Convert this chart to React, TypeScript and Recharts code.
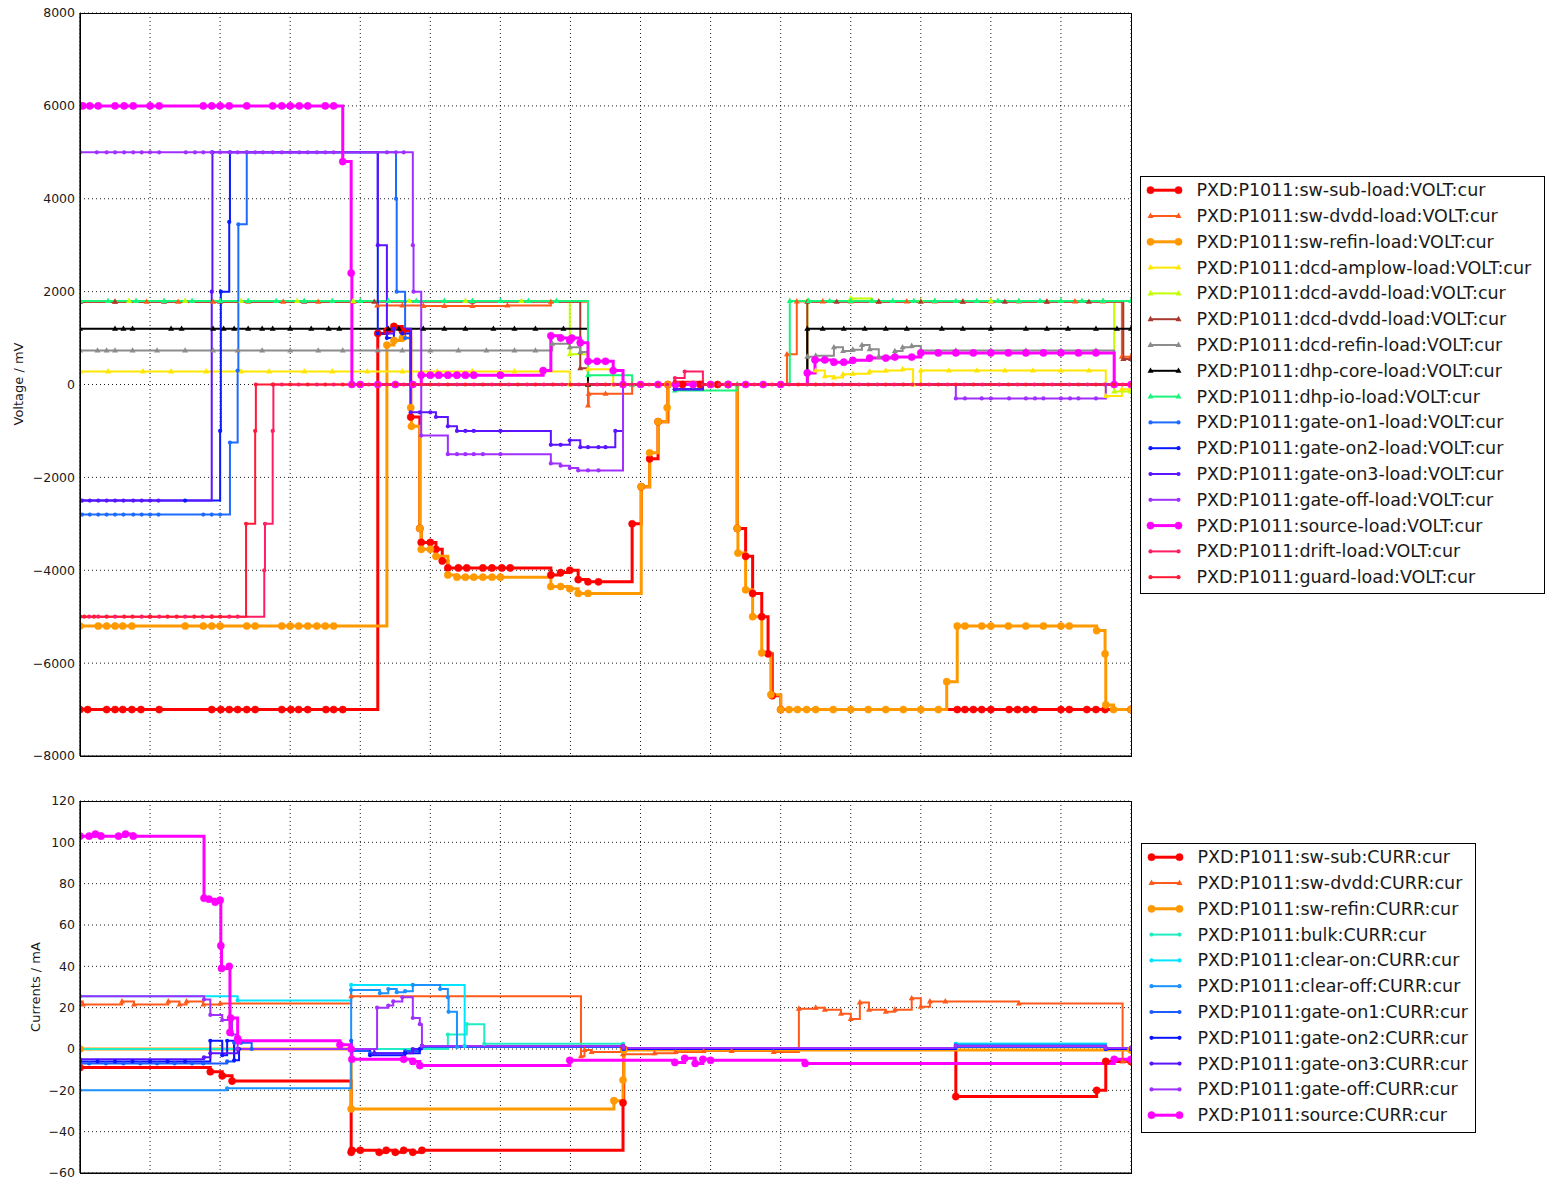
import React from 'react';
import {
  LineChart,
  Line,
  XAxis,
  YAxis,
  CartesianGrid,
  Legend,
} from 'recharts';

type Pt = [number, number];
type MarkerKind = 'circle' | 'triangle' | 'dot';

interface Series {
  name: string;
  color: string;
  data: Pt[];
  marker: MarkerKind;
  width: number;
}

// time axis runs over 15 slots, values are [slot, reading]
const timeTicks = [0, 1, 2, 3, 4, 5, 6, 7, 8, 9, 10, 11, 12, 13, 14, 15];
const voltTicks = [-8000, -6000, -4000, -2000, 0, 2000, 4000, 6000, 8000];
const currTicks = [-60, -40, -20, 0, 20, 40, 60, 80, 100, 120];

// ---- load voltages (mV) ----
const swSubLoad: Pt[] = [
  [0, -7000], [0.11, -7000], [0.38, -7000], [0.5, -7000], [0.61, -7000], [0.74, -7000], [0.87, -7000],
  [1.13, -7000], [1.88, -7000], [2.01, -7000], [2.13, -7000], [2.25, -7000], [2.38, -7000], [2.5, -7000],
  [2.88, -7000], [3.01, -7000], [3.12, -7000], [3.25, -7000], [3.51, -7000], [3.62, -7000], [3.75, -7000],
  [4.25, 1100], [4.38, 1150], [4.48, 1250], [4.6, 1150], [4.72, -700], [4.85, -3100], [4.87, -3400],
  [5.0, -3400], [5.08, -3550], [5.17, -3800], [5.25, -3950], [5.4, -3950], [5.52, -3950], [5.75, -3950],
  [5.88, -3950], [6.02, -3950], [6.14, -3950], [6.72, -4100], [6.86, -4050], [6.99, -4000], [7.11, -4200],
  [7.25, -4250], [7.4, -4250], [7.88, -3000], [8.01, -2200], [8.13, -1600], [8.25, -800], [8.39, 0],
  [8.6, 0], [8.85, 0], [9.1, 0], [9.25, 0], [9.38, -3100], [9.5, -3700], [9.6, -4500], [9.73, -5000],
  [9.82, -5800], [9.88, -6700], [10.0, -7000], [12.52, -7000], [12.63, -7000], [12.75, -7000],
  [12.87, -7000], [13.0, -7000], [13.26, -7000], [13.38, -7000], [13.5, -7000], [13.62, -7000],
  [14.0, -7000], [14.12, -7000], [14.37, -7000], [14.5, -7000], [14.63, -7000], [15, -7000],
];

const swDvddLoad: Pt[] = [
  [0, 1780], [0.5, 1780], [0.95, 1780], [1.4, 1780], [1.9, 1780], [2.4, 1780], [2.9, 1780], [3.4, 1780],
  [3.9, 1780], [4.24, 1700], [4.6, 1700], [4.9, 1690], [5.2, 1690], [5.6, 1690], [6.1, 1700], [6.72, 1780],
  [7.25, -450], [7.26, -200], [7.5, -200], [7.88, 0], [10.09, 650], [10.23, 1790], [10.6, 1790],
  [11.0, 1790], [11.4, 1790], [11.8, 1790], [12.2, 1790], [12.6, 1790], [13.0, 1790], [13.4, 1790],
  [13.8, 1790], [14.2, 1790], [14.6, 1790], [14.87, 600], [15, 600],
];

const swRefinLoad: Pt[] = [
  [0, -5200], [0.26, -5200], [0.38, -5200], [0.5, -5200], [0.61, -5200], [0.74, -5200], [1.5, -5200],
  [1.76, -5200], [1.88, -5200], [2.0, -5200], [2.38, -5200], [2.5, -5200], [2.88, -5200], [3.0, -5200],
  [3.12, -5200], [3.25, -5200], [3.38, -5200], [3.5, -5200], [3.62, -5200], [4.38, 850], [4.48, 950],
  [4.6, 1000], [4.72, -500], [4.73, -900], [4.85, -3100], [4.87, -3550], [5.0, -3550], [5.08, -3700],
  [5.25, -4100], [5.38, -4150], [5.5, -4150], [5.62, -4150], [5.75, -4150], [5.88, -4150], [6.0, -4150],
  [6.72, -4350], [6.86, -4350], [6.99, -4400], [7.11, -4500], [7.25, -4500], [8.01, -2200],
  [8.13, -1470], [8.25, -800], [8.38, -500], [8.39, 0], [8.5, 0], [8.75, 0], [9.0, 0], [9.25, 0],
  [9.38, -3100], [9.39, -3630], [9.5, -4420], [9.6, -5000], [9.73, -5780], [9.86, -6680], [10.0, -7000],
  [10.12, -7000], [10.24, -7000], [10.37, -7000], [10.5, -7000], [10.75, -7000], [11.0, -7000],
  [11.25, -7000], [11.5, -7000], [11.75, -7000], [12.0, -7000], [12.25, -7000], [12.37, -6400],
  [12.52, -5200], [12.63, -5200], [12.87, -5200], [13.0, -5200], [13.25, -5200], [13.5, -5200],
  [13.75, -5200], [14.0, -5200], [14.12, -5200], [14.51, -5300], [14.63, -5800], [14.64, -6900],
  [14.75, -7000], [15, -7000],
];

const dcdAmplowLoad: Pt[] = [
  [0, 280], [0.4, 280], [0.9, 280], [1.3, 280], [1.8, 280], [2.3, 280], [2.7, 280], [3.2, 280], [3.6, 280],
  [4.1, 280], [4.6, 280], [5.1, 280], [5.6, 280], [6.2, 280], [6.6, 280], [6.99, 0], [7.25, 330],
  [7.61, 0], [10.38, 250], [10.5, 300], [10.63, 180], [10.76, 150], [10.89, 220], [11.03, 230],
  [11.27, 280], [11.5, 300], [11.74, 330], [11.89, 0], [12.0, 300], [12.4, 300], [12.8, 300], [13.2, 300],
  [13.6, 300], [14.0, 300], [14.4, 300], [14.64, -250], [14.87, -100], [15, -100],
];

const dcdAvddLoad: Pt[] = [
  [0, 1800], [0.7, 1800], [1.5, 1800], [2.3, 1800], [3.1, 1800], [3.9, 1800], [4.7, 1800], [5.5, 1800],
  [6.3, 1800], [6.99, 650], [7.25, 0], [10.38, 1800], [11.0, 1850], [11.3, 1800], [12.0, 1800],
  [13.0, 1800], [14.0, 1800], [14.76, -150], [15, -150],
];

const dcdDvddLoad: Pt[] = [
  [0, 1780], [0.5, 1780], [1.2, 1780], [2.0, 1780], [3.2, 1780], [4.2, 1780], [5.6, 1780], [7.14, 350],
  [7.25, 0], [10.38, 1780], [10.8, 1780], [11.4, 1780], [12.0, 1780], [12.6, 1780], [13.2, 1780],
  [13.8, 1780], [14.4, 1780], [14.89, 550], [15, 550],
];

const dcdRefinLoad: Pt[] = [
  [0, 730], [0.25, 730], [0.38, 730], [0.5, 730], [0.75, 730], [1.1, 730], [1.5, 730], [1.9, 730],
  [2.25, 730], [2.6, 730], [3.0, 730], [3.4, 730], [3.75, 730], [4.25, 730], [4.6, 730], [5.0, 730],
  [5.4, 730], [5.8, 730], [6.2, 730], [6.5, 730], [6.74, 880], [6.99, 800], [7.14, 700], [7.25, 0],
  [10.38, 600], [10.5, 620], [10.76, 800], [10.89, 720], [11.03, 750], [11.16, 850], [11.27, 760],
  [11.4, 600], [11.63, 720], [11.74, 800], [11.87, 830], [12.0, 730], [12.5, 730], [13.0, 730],
  [13.5, 730], [14.0, 730], [14.5, 730], [14.76, 0], [15, 0],
];

const dhpCoreLoad: Pt[] = [
  [0, 1200], [0.5, 1200], [0.62, 1200], [0.75, 1200], [1.3, 1200], [1.45, 1200], [1.9, 1200], [2.05, 1200],
  [2.2, 1200], [2.4, 1200], [2.6, 1200], [2.75, 1200], [3.0, 1200], [3.3, 1200], [3.55, 1200], [3.7, 1200],
  [4.4, 1200], [4.55, 1200], [4.9, 1200], [5.2, 1200], [5.5, 1200], [5.9, 1200], [6.2, 1200], [6.5, 1200],
  [6.9, 1200], [7.25, 0], [10.38, 1200], [10.6, 1200], [10.9, 1200], [11.2, 1200], [11.5, 1200],
  [11.8, 1200], [12.3, 1200], [12.6, 1200], [13.0, 1200], [13.5, 1200], [13.8, 1200], [14.1, 1200],
  [14.5, 1200], [14.8, 1200], [15, 1200],
];

const dhpIoLoad: Pt[] = [
  [0, 1800], [0.4, 1800], [0.8, 1800], [1.2, 1800], [1.6, 1800], [2.0, 1800], [2.4, 1800], [2.8, 1800],
  [3.2, 1800], [3.6, 1800], [4.0, 1800], [4.4, 1800], [4.8, 1800], [5.2, 1800], [5.6, 1800], [6.0, 1800],
  [6.4, 1800], [6.8, 1800], [7.25, 200], [7.88, 0], [8.49, -130], [9.38, 0], [10.13, 1800], [10.4, 1800],
  [10.7, 1800], [11.0, 1800], [11.3, 1800], [11.6, 1800], [11.9, 1800], [12.2, 1800], [12.5, 1800],
  [12.8, 1800], [13.1, 1800], [13.4, 1800], [13.7, 1800], [14.0, 1800], [14.3, 1800], [14.6, 1800],
  [15, 1800],
];

const gateOn1Load: Pt[] = [
  [0, -2800], [0.03, -2800], [0.14, -2800], [0.26, -2800], [0.38, -2800], [0.5, -2800], [0.62, -2800],
  [0.76, -2800], [0.88, -2800], [1.0, -2800], [1.12, -2800], [1.76, -2800], [1.88, -2800], [2.0, -2800],
  [2.14, -1250], [2.25, 300], [2.26, 3450], [2.38, 5000], [4.51, 4000], [4.52, 2000], [4.64, 1000],
  [4.72, 0], [8.49, -100], [8.89, 0], [15, 0],
];

const gateOn2Load: Pt[] = [
  [0, -2500], [1.5, -2500], [2.0, -1000], [2.01, 2000], [2.13, 3500], [2.14, 5000], [4.25, 1100],
  [4.38, 1000], [4.48, 1200], [4.6, 1100], [4.72, 0], [8.49, -100], [8.89, 0], [15, 0],
];

const gateOn3Load: Pt[] = [
  [0, -2500], [0.03, -2500], [0.14, -2500], [0.26, -2500], [0.38, -2500], [0.5, -2500], [0.62, -2500],
  [0.76, -2500], [0.88, -2500], [1.0, -2500], [1.12, -2500], [1.88, 2000], [1.89, 5000], [4.25, 3000],
  [4.38, 1100], [4.48, 1200], [4.72, -600], [4.85, -600], [5.0, -600], [5.08, -700], [5.25, -900],
  [5.38, -1000], [5.5, -1000], [5.62, -1000], [6.0, -1000], [6.72, -1300], [6.86, -1300], [6.99, -1200],
  [7.14, -1350], [7.25, -1350], [7.4, -1350], [7.5, -1350], [7.64, -1000], [7.75, 0], [8.49, -100],
  [8.89, 0], [15, 0],
];

const gateOffLoad: Pt[] = [
  [0, 5000], [0.24, 5000], [0.38, 5000], [0.5, 5000], [0.63, 5000], [0.76, 5000], [0.88, 5000], [1.0, 5000],
  [1.13, 5000], [1.51, 5000], [1.64, 5000], [1.76, 5000], [1.88, 5000], [2.0, 5000], [2.14, 5000],
  [2.25, 5000], [2.38, 5000], [2.5, 5000], [2.61, 5000], [2.75, 5000], [2.88, 5000], [3.0, 5000],
  [3.13, 5000], [3.25, 5000], [3.38, 5000], [3.5, 5000], [3.62, 5000], [4.38, 5000], [4.51, 5000],
  [4.62, 5000], [4.75, 3000], [4.76, 2000], [4.87, -1100], [5.25, -1500], [5.38, -1500], [5.5, -1500],
  [5.62, -1500], [5.75, -1500], [6.0, -1500], [6.72, -1700], [6.86, -1750], [6.99, -1800], [7.11, -1850],
  [7.25, -1850], [7.4, -1850], [7.75, 0], [12.5, -300], [12.63, -300], [12.87, -300], [13.0, -300],
  [13.26, -300], [13.5, -300], [13.63, -300], [13.75, -300], [14.0, -300], [14.13, -300], [14.25, -300],
  [14.5, -300], [14.64, 0], [15, 0],
];

const sourceLoad: Pt[] = [
  [0, 6000], [0.04, 6000], [0.14, 6000], [0.26, 6000], [0.5, 6000], [0.63, 6000], [0.76, 6000], [1.0, 6000],
  [1.13, 6000], [1.76, 6000], [1.88, 6000], [2.0, 6000], [2.13, 6000], [2.38, 6000], [2.75, 6000],
  [2.88, 6000], [3.0, 6000], [3.13, 6000], [3.25, 6000], [3.5, 6000], [3.62, 6000], [3.75, 4800],
  [3.87, 2400], [3.88, 0], [4.0, 0], [4.25, 0], [4.5, 0], [4.75, 0], [4.87, 200], [5.0, 200], [5.12, 200],
  [5.25, 200], [5.38, 200], [5.5, 200], [5.62, 200], [6.0, 200], [6.61, 300], [6.72, 1050], [6.86, 1000],
  [6.99, 950], [7.02, 1000], [7.14, 900], [7.25, 500], [7.38, 500], [7.5, 500], [7.61, 300], [7.75, 0],
  [8.0, 0], [8.25, 0], [8.5, 0], [8.75, 0], [9.0, 0], [9.25, 0], [9.5, 0], [9.75, 0], [10.0, 0],
  [10.38, 250], [10.49, 530], [10.63, 530], [10.76, 480], [10.9, 480], [11.03, 520], [11.27, 570],
  [11.5, 570], [11.63, 590], [11.87, 590], [12.0, 680], [12.25, 680], [12.5, 680], [12.75, 680],
  [13.0, 680], [13.25, 680], [13.5, 680], [13.75, 680], [14.0, 680], [14.25, 680], [14.5, 680],
  [14.76, 0], [15, 0],
];

const driftLoad: Pt[] = [
  [0, -5000], [0.13, -5000], [0.26, -5000], [0.5, -5000], [0.88, -5000], [1.0, -5000], [1.13, -5000],
  [1.5, -5000], [1.75, -5000], [1.88, -5000], [2.13, -5000], [2.25, -5000], [2.63, -4000], [2.64, -3000],
  [2.75, -1000], [2.76, 0], [2.88, 0], [3.12, 0], [3.38, 0], [3.62, 0], [3.88, 0], [4.12, 0], [4.38, 0],
  [4.62, 0], [4.88, 0], [5.12, 0], [5.38, 0], [5.62, 0], [5.88, 0], [6.12, 0], [6.38, 0], [6.62, 0],
  [6.88, 0], [7.12, 0], [7.38, 0], [7.62, 0], [7.88, 0], [8.12, 0], [8.38, 0], [8.49, 140], [8.63, 280],
  [8.89, 0], [9.12, 0], [9.38, 0], [9.62, 0], [9.88, 0], [10.12, 0], [10.38, 0], [10.62, 0], [10.88, 0],
  [11.12, 0], [11.38, 0], [11.62, 0], [11.88, 0], [12.12, 0], [12.38, 0], [12.62, 0], [12.88, 0],
  [13.12, 0], [13.38, 0], [13.62, 0], [13.88, 0], [14.12, 0], [14.38, 0], [14.62, 0], [14.88, 0], [15, 0],
];

const guardLoad: Pt[] = [
  [0, -5000], [0.06, -5000], [0.2, -5000], [0.38, -5000], [0.63, -5000], [0.75, -5000], [1.0, -5000],
  [1.25, -5000], [1.38, -5000], [1.63, -5000], [1.88, -5000], [2.0, -5000], [2.37, -3000], [2.5, -1000],
  [2.51, 0], [2.75, 0], [3.0, 0], [3.25, 0], [3.5, 0], [3.75, 0], [4.0, 0], [4.25, 0], [4.5, 0], [4.75, 0],
  [5.0, 0], [5.25, 0], [5.5, 0], [5.75, 0], [6.0, 0], [6.25, 0], [6.5, 0], [6.75, 0], [7.0, 0], [7.25, 0],
  [7.5, 0], [7.75, 0], [8.0, 0], [8.25, 0], [8.49, 60], [8.89, 0], [9.0, 0], [9.25, 0], [9.5, 0],
  [9.75, 0], [10.0, 0], [10.25, 0], [10.5, 0], [10.75, 0], [11.0, 0], [11.25, 0], [11.5, 0], [11.75, 0],
  [12.0, 0], [12.25, 0], [12.5, 0], [12.75, 0], [13.0, 0], [13.25, 0], [13.5, 0], [13.75, 0], [14.0, 0],
  [14.25, 0], [14.5, 0], [14.75, 0], [15, 0],
];

// ---- currents (mA) ----
const swSubCurr: Pt[] = [
  [0, -9], [1.86, -11], [2.03, -13], [2.17, -15.5], [3.87, -50], [3.88, -49], [4.0, -49], [4.27, -50],
  [4.37, -49], [4.5, -50], [4.62, -49], [4.75, -50], [4.88, -49], [7.75, -26], [7.76, 0], [12.5, -23],
  [14.51, -20], [14.64, -6], [15, -6],
];

const swDvddCurr: Pt[] = [
  [0, 23], [0.04, 21.5], [0.6, 23], [0.77, 21.5], [1.26, 23], [1.42, 21.5], [1.52, 23], [1.76, 21.5],
  [2.0, 22], [3.87, 25.5], [7.15, -3.5], [7.2, -0.5], [7.3, -1.5], [7.75, -2.5], [8.2, -2], [8.5, -1.5],
  [8.9, -1], [9.3, -1], [9.9, -1.5], [10.26, 19.5], [10.5, 20], [10.63, 19], [10.86, 17], [11.0, 14.5],
  [11.13, 22.5], [11.26, 19], [11.5, 18], [11.63, 19], [11.87, 24.5], [12.0, 20.5], [12.13, 23],
  [12.35, 23], [13.4, 22], [14.88, -6], [15, -6],
];

const swRefinCurr: Pt[] = [
  [0, 0], [3.87, -29], [7.62, -25], [7.75, -15], [7.76, -0.5], [15, -0.5],
];

const bulkCurr: Pt[] = [
  [0, 0], [5.25, 7], [5.52, 12], [5.77, 2.5], [7.75, 2.5], [7.76, 0], [12.5, 2.5], [14.64, 0], [15, 0],
];

const clearOnCurr: Pt[] = [
  [0, 25.5], [2.25, 23.5], [3.87, 31], [5.49, 1.5], [7.75, 1.5], [7.76, 0], [12.5, 2.5], [14.64, 0], [15, 0],
];

const clearOffCurr: Pt[] = [
  [0, -20], [2.1, -19], [3.87, 28.5], [4.28, 27], [4.4, 29], [4.52, 27.5], [4.64, 28], [4.75, 31],
  [5.14, 29], [5.25, 25], [5.26, 18], [5.38, 1], [7.75, 1], [7.76, 0], [12.5, 2], [14.64, 0], [15, 0],
];

const gateOn1Curr: Pt[] = [
  [0, -7], [0.13, -7], [0.37, -7], [0.62, -7], [0.86, -7], [1.1, -7], [1.35, -7], [1.6, -7], [1.76, -7],
  [2.1, -6], [2.2, 3], [2.3, 3], [2.45, 0], [3.87, 4], [3.88, -1], [4.14, -2], [4.64, -1], [4.85, 0],
  [4.88, 1], [7.75, 1], [7.76, 0], [12.5, 1], [14.64, 0], [15, 0],
];

const gateOn2Curr: Pt[] = [
  [0, -6], [0.25, -6], [0.5, -6], [0.75, -6], [1.0, -6], [1.25, -6], [1.5, -6], [1.86, 4], [2.03, -3],
  [2.1, 4], [2.2, -5.5], [2.27, 0], [3.87, 0], [4.14, -3], [4.64, -2], [4.85, 0], [4.88, 1.5], [7.75, 1.5],
  [7.76, 0], [12.5, 1.5], [14.64, 0], [15, 0],
];

const gateOn3Curr: Pt[] = [
  [0, -5], [1.77, -4], [1.86, -2], [2.25, 0], [4.2, -2], [4.75, 0], [4.88, 1.5], [7.75, 1.5], [7.76, 0.5],
  [12.5, 1.5], [14.64, 0.5], [15, 0.5],
];

const gateOffCurr: Pt[] = [
  [0, 25.5], [1.77, 24], [1.86, 16.5], [2.03, 14], [2.17, 7], [2.25, 0], [4.24, 20], [4.4, 21],
  [4.47, 23], [4.6, 25], [4.75, 15], [4.85, 12], [4.88, 1.5], [7.75, 1.5], [7.76, 0.5], [12.5, 1.5],
  [14.64, 0.5], [15, 0.5],
];

const sourceCurr: Pt[] = [
  [0, 103], [0.13, 103], [0.22, 104], [0.3, 103], [0.55, 103], [0.65, 104], [0.76, 103], [1.77, 73],
  [1.84, 72.5], [1.93, 71], [2.0, 72], [2.01, 50], [2.02, 39], [2.13, 40], [2.14, 8], [2.15, 15],
  [2.25, 5], [2.26, 4], [3.71, 2], [3.87, 0], [3.88, -5], [4.62, -5], [4.75, -6], [4.85, -8], [6.99, -5.5],
  [8.49, -6.5], [8.63, -4.5], [8.78, -7], [8.89, -5], [9.0, -5.5], [10.35, -7], [14.76, -5], [15, -5],
];

const voltSeries: Series[] = [
  { name: 'PXD:P1011:sw-sub-load:VOLT:cur', color: '#ff0000', data: swSubLoad, marker: 'circle', width: 3 },
  { name: 'PXD:P1011:sw-dvdd-load:VOLT:cur', color: '#ff5a1a', data: swDvddLoad, marker: 'triangle', width: 2 },
  { name: 'PXD:P1011:sw-refin-load:VOLT:cur', color: '#ff9900', data: swRefinLoad, marker: 'circle', width: 3 },
  { name: 'PXD:P1011:dcd-amplow-load:VOLT:cur', color: '#ffe600', data: dcdAmplowLoad, marker: 'triangle', width: 2 },
  { name: 'PXD:P1011:dcd-avdd-load:VOLT:cur', color: '#c3ff00', data: dcdAvddLoad, marker: 'triangle', width: 2 },
  { name: 'PXD:P1011:dcd-dvdd-load:VOLT:cur', color: '#a83a30', data: dcdDvddLoad, marker: 'triangle', width: 2 },
  { name: 'PXD:P1011:dcd-refin-load:VOLT:cur', color: '#8c8c8c', data: dcdRefinLoad, marker: 'triangle', width: 2 },
  { name: 'PXD:P1011:dhp-core-load:VOLT:cur', color: '#000000', data: dhpCoreLoad, marker: 'triangle', width: 2 },
  { name: 'PXD:P1011:dhp-io-load:VOLT:cur', color: '#19f57a', data: dhpIoLoad, marker: 'triangle', width: 2 },
  { name: 'PXD:P1011:gate-on1-load:VOLT:cur', color: '#1e6bff', data: gateOn1Load, marker: 'dot', width: 2 },
  { name: 'PXD:P1011:gate-on2-load:VOLT:cur', color: '#0a1aff', data: gateOn2Load, marker: 'dot', width: 2 },
  { name: 'PXD:P1011:gate-on3-load:VOLT:cur', color: '#5a14ff', data: gateOn3Load, marker: 'dot', width: 2 },
  { name: 'PXD:P1011:gate-off-load:VOLT:cur', color: '#a030ff', data: gateOffLoad, marker: 'dot', width: 2 },
  { name: 'PXD:P1011:source-load:VOLT:cur', color: '#ff00ff', data: sourceLoad, marker: 'circle', width: 3 },
  { name: 'PXD:P1011:drift-load:VOLT:cur', color: '#ff1e64', data: driftLoad, marker: 'dot', width: 2 },
  { name: 'PXD:P1011:guard-load:VOLT:cur', color: '#ff1a36', data: guardLoad, marker: 'dot', width: 2 },
];

const currSeries: Series[] = [
  { name: 'PXD:P1011:sw-sub:CURR:cur', color: '#ff0000', data: swSubCurr, marker: 'circle', width: 3 },
  { name: 'PXD:P1011:sw-dvdd:CURR:cur', color: '#ff5a1a', data: swDvddCurr, marker: 'triangle', width: 2 },
  { name: 'PXD:P1011:sw-refin:CURR:cur', color: '#ff9900', data: swRefinCurr, marker: 'circle', width: 3 },
  { name: 'PXD:P1011:bulk:CURR:cur', color: '#22ecc4', data: bulkCurr, marker: 'dot', width: 2 },
  { name: 'PXD:P1011:clear-on:CURR:cur', color: '#00e4ff', data: clearOnCurr, marker: 'dot', width: 2 },
  { name: 'PXD:P1011:clear-off:CURR:cur', color: '#1a92ff', data: clearOffCurr, marker: 'dot', width: 2 },
  { name: 'PXD:P1011:gate-on1:CURR:cur', color: '#1a5cff', data: gateOn1Curr, marker: 'dot', width: 2 },
  { name: 'PXD:P1011:gate-on2:CURR:cur', color: '#0a14ff', data: gateOn2Curr, marker: 'dot', width: 2 },
  { name: 'PXD:P1011:gate-on3:CURR:cur', color: '#5a14ff', data: gateOn3Curr, marker: 'dot', width: 2 },
  { name: 'PXD:P1011:gate-off:CURR:cur', color: '#a030ff', data: gateOffCurr, marker: 'dot', width: 2 },
  { name: 'PXD:P1011:source:CURR:cur', color: '#ff00ff', data: sourceCurr, marker: 'circle', width: 3 },
];

const FONT = '"DejaVu Sans", sans-serif';
const TEXT = '#1a1a1a';
const FRAME = { stroke: '#000', strokeWidth: 1.2 };

// plot box shared by both panels (left edge and width)
const PLOT_LEFT = 80;
const PLOT_WIDTH = 1051;
const CHART_W = 1550;

const toRows = (pts: Pt[]) => pts.map(([t, v]) => ({ t, v }));

const fmtTick = (v: number) => (v < 0 ? `\u2212${Math.abs(v)}` : String(v));

// vertical grid at every time slot, spread across the plot area
const slotGrid = ({ offset }: any) =>
  timeTicks.map((t) => offset.left + (offset.width * t) / timeTicks[timeTicks.length - 1]);

const Marker = ({ cx, cy, kind, color }: { cx?: number; cy?: number; kind: MarkerKind; color: string }) => {
  if (cx == null || cy == null || isNaN(cx) || isNaN(cy)) return null;
  if (kind === 'circle') return <circle cx={cx} cy={cy} r={3.6} fill={color} stroke={color} strokeWidth={0.5} />;
  if (kind === 'triangle') {
    return <path d={`M${cx},${cy - 3.4}L${cx + 3},${cy + 2}L${cx - 3},${cy + 2}Z`} fill={color} />;
  }
  return <circle cx={cx} cy={cy} r={2.1} fill={color} />;
};

const LegendBox = ({ items, width, height }: { items: Series[]; width: number; height: number }) => (
  <svg width={width} height={height} style={{ display: 'block' }}>
    <rect x={0.5} y={0.5} width={width - 1} height={height - 1} fill="#fff" stroke="#000" strokeWidth={1} />
    {items.map((s, i) => {
      const y = 14.2 + i * 25.8;
      return (
        <g key={s.name}>
          <line x1={10.5} x2={38.5} y1={y} y2={y} stroke={s.color} strokeWidth={s.width} />
          <Marker cx={10.5} cy={y} kind={s.marker} color={s.color} />
          <Marker cx={38.5} cy={y} kind={s.marker} color={s.color} />
          <text x={56.5} y={y + 6} fontSize={17.5} fontFamily={FONT} fill={TEXT}>
            {s.name}
          </text>
        </g>
      );
    })}
  </svg>
);

interface PanelProps {
  series: Series[];
  height: number;
  top: number;
  bottom: number;
  ticks: number[];
  legendLeft: number;
  legendTop: number;
  legendWidth: number;
  legendHeight: number;
}

const Panel: React.FC<PanelProps> = ({
  series, height, top, bottom, ticks, legendLeft, legendTop, legendWidth, legendHeight,
}) => {
  const lo = ticks[0];
  const hi = ticks[ticks.length - 1];
  const tEnd = timeTicks[timeTicks.length - 1];
  return (
    <div style={{ position: 'relative', width: CHART_W, height }}>
      <LineChart
        width={CHART_W}
        height={height}
        margin={{ top, right: CHART_W - PLOT_LEFT - PLOT_WIDTH, bottom: 0, left: 0 }}
      >
        <CartesianGrid
          stroke="#000"
          strokeWidth={0.9}
          strokeDasharray="1 3"
          verticalCoordinatesGenerator={slotGrid}
        />
        <XAxis
          dataKey="t"
          type="number"
          domain={[0, tEnd]}
          ticks={timeTicks}
          allowDataOverflow
          tick={false}
          axisLine={FRAME}
          tickLine={false}
          height={bottom}
        />
        <YAxis
          type="number"
          domain={[lo, hi]}
          ticks={ticks}
          interval={0}
          allowDataOverflow
          width={PLOT_LEFT}
          axisLine={FRAME}
          tickLine={false}
          tickSize={0}
          tickMargin={5}
          tickFormatter={fmtTick}
          tick={{ fontSize: 12.5, fill: TEXT, fontFamily: FONT }}
        />
        {series.map((s) => (
          <Line
            key={s.name}
            name={s.name}
            data={toRows(s.data)}
            dataKey="v"
            type="stepAfter"
            stroke={s.color}
            strokeWidth={s.width}
            dot={(p: any) => <Marker key={`${s.name}-${p.index}`} cx={p.cx} cy={p.cy} kind={s.marker} color={s.color} />}
            activeDot={false}
            isAnimationActive={false}
          />
        ))}
        <Legend
          layout="vertical"
          align="center"
          verticalAlign="middle"
          wrapperStyle={{ left: legendLeft, top: legendTop, width: legendWidth, height: legendHeight }}
          content={() => <LegendBox items={series} width={legendWidth} height={legendHeight} />}
        />
      </LineChart>
      {/* solid box around the plot area */}
      <div
        style={{
          position: 'absolute',
          left: PLOT_LEFT,
          top,
          width: PLOT_WIDTH + 1,
          height: height - top - bottom + 1,
          border: '1px solid #000',
          boxSizing: 'border-box',
          pointerEvents: 'none',
        }}
      />
    </div>
  );
};

const axisTitle = (left: number, top: number): React.CSSProperties => ({
  position: 'absolute',
  left,
  top,
  transform: 'translate(-50%, -50%) rotate(-90deg)',
  fontSize: 13,
  fontFamily: FONT,
  color: TEXT,
  whiteSpace: 'nowrap',
});

export default function App() {
  return (
    <div style={{ position: 'absolute', left: 0, top: 0, width: CHART_W, height: 1180, background: '#fff' }}>
      <div style={{ position: 'absolute', left: 0, top: 0 }}>
        <Panel
          series={voltSeries}
          height={780}
          top={13}
          bottom={24}
          ticks={voltTicks}
          legendLeft={1140}
          legendTop={176}
          legendWidth={405}
          legendHeight={418}
        />
      </div>
      <div style={{ position: 'absolute', left: 0, top: 780 }}>
        <Panel
          series={currSeries}
          height={400}
          top={21}
          bottom={7}
          ticks={currTicks}
          legendLeft={1141}
          legendTop={63}
          legendWidth={335}
          legendHeight={290}
        />
      </div>
      <div style={axisTitle(18, 384)}>Voltage / mV</div>
      <div style={axisTitle(35, 987)}>Currents / mA</div>
    </div>
  );
}
